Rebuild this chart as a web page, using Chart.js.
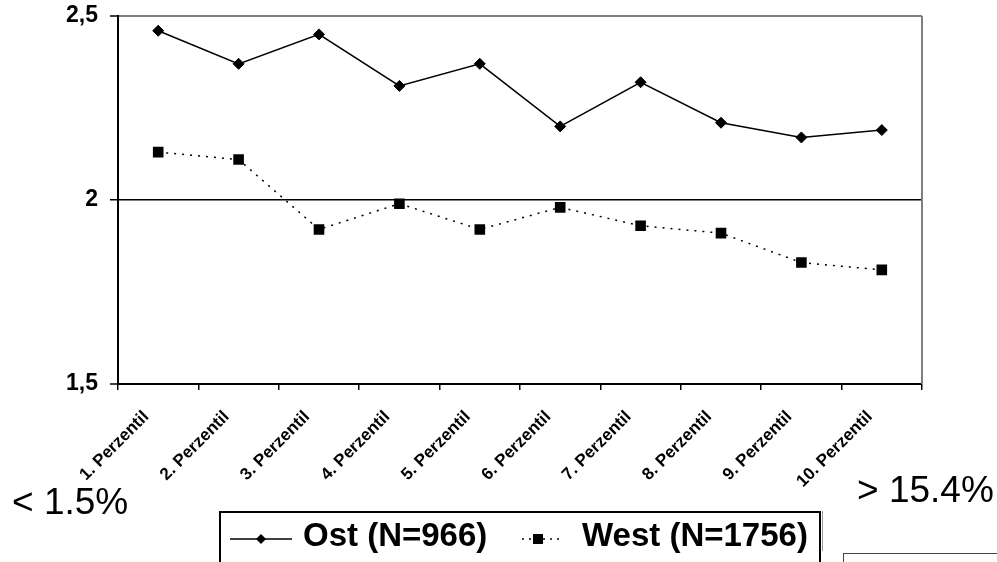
<!DOCTYPE html>
<html>
<head>
<meta charset="utf-8">
<script src="https://cdn.jsdelivr.net/npm/chart.js@4/dist/chart.umd.min.js"></script>
<style>
  html, body { margin: 0; padding: 0; background: #fff; overflow: hidden; }
  #wrap { position: relative; width: 997px; height: 562px; overflow: hidden; }
  #chart { position: absolute; left: 0; top: 0; }
  .note { position: absolute; font-family: 'Liberation Sans', Arial, sans-serif; font-size: 37px; line-height: 37px; color: #000; white-space: nowrap; }
  .legtxt { position: absolute; font-family: 'Liberation Sans', Arial, sans-serif; font-weight: bold; font-size: 33px; line-height: 33px; color: #000; white-space: nowrap; }
  #legendBox { position: absolute; left: 219px; top: 511px; width: 602px; height: 90px; border: 2px solid #000; box-sizing: border-box; }
  #shade { position: absolute; left: 822px; top: 511px; width: 1px; height: 40px; background: #999; }
  #stub { position: absolute; left: 843px; top: 553px; width: 200px; height: 40px; border: 1px solid #444; box-sizing: border-box; }
  svg.sample { position: absolute; overflow: visible; }
</style>
</head>
<body>
<div id="wrap">
  <canvas id="chart" width="997" height="562"></canvas>
  <div class="note" style="left:12px; top:483px;">&lt; 1.5%</div>
  <div class="note" style="left:857px; top:471px;">&gt; 15.4%</div>
  <div id="legendBox"></div>
  <div id="shade"></div>
  <div id="stub"></div>
  <svg class="sample" style="left:0;top:0;" width="997" height="562">
    <line x1="230" y1="539" x2="292" y2="539" stroke="#000" stroke-width="1.5"/>
    <polygon points="256,539 261,534 266,539 261,544" fill="#000"/>
    <line x1="522" y1="539" x2="563" y2="539" stroke="#000" stroke-width="1.5" stroke-dasharray="2,5"/>
    <rect x="533" y="534" width="10" height="10" fill="#000"/>
  </svg>
  <div class="legtxt" style="left:303px; top:518px;">Ost (N=966)</div>
  <div class="legtxt" style="left:582px; top:518px;">West (N=1756)</div>
</div>
<script>
// ---- data ----
const categories = ['1. Perzentil', '2. Perzentil', '3. Perzentil', '4. Perzentil', '5. Perzentil',
                    '6. Perzentil', '7. Perzentil', '8. Perzentil', '9. Perzentil', '10. Perzentil'];
const ostValues  = [2.46, 2.37, 2.45, 2.31, 2.37, 2.20, 2.32, 2.21, 2.17, 2.19];
const westValues = [2.13, 2.11, 1.92, 1.99, 1.92, 1.98, 1.93, 1.91, 1.83, 1.81];
const yMin = 1.5, yMax = 2.5, yStep = 0.5;

const FONT = "'Liberation Sans', Arial, sans-serif";

const rightBorder = {
  id: 'rightBorder',
  beforeDatasetsDraw(chart) {
    const a = chart.chartArea, ctx = chart.ctx;
    ctx.save();
    ctx.strokeStyle = '#808080';
    ctx.lineWidth = 2;
    ctx.beginPath();
    ctx.moveTo(a.right, a.top);
    ctx.lineTo(a.right, a.bottom);
    ctx.stroke();
    ctx.restore();
  }
};

new Chart(document.getElementById('chart'), {
  type: 'line',
  data: {
    labels: categories,
    datasets: [
      {
        label: 'Ost (N=966)',
        data: ostValues,
        borderColor: '#000',
        backgroundColor: '#000',
        borderWidth: 1.5,
        pointStyle: 'rectRot',
        pointRadius: 5.5,
        pointBorderWidth: 1,
        tension: 0,
        fill: false
      },
      {
        label: 'West (N=1756)',
        data: westValues,
        borderColor: '#000',
        backgroundColor: '#000',
        borderWidth: 1.5,
        borderDash: [2, 6],
        pointStyle: 'rect',
        pointRadius: 7.5,
        pointBorderWidth: 0,
        tension: 0,
        fill: false
      }
    ]
  },
  options: {
    responsive: false,
    devicePixelRatio: 1,
    animation: false,
    layout: { padding: { left: 0, top: 16, right: 75, bottom: 0 } },
    plugins: { legend: { display: false }, tooltip: { enabled: false } },
    scales: {
      x: {
        type: 'category',
        offset: true,
        grid: {
          display: true,
          drawOnChartArea: false,
          offset: true,
          tickLength: 6,
          tickColor: '#000',
          lineWidth: 1.5
        },
        border: { display: true, color: '#000', width: 2 },
        ticks: {
          autoSkip: false,
          maxRotation: 45,
          minRotation: 45,
          padding: 17,
          labelOffset: -12,
          color: '#000',
          font: { family: FONT, size: 17, weight: 'bold' }
        },
        afterFit(scale) { scale.height = 178; scale.paddingLeft = 0; scale.paddingRight = 0; }
      },
      y: {
        min: yMin,
        max: yMax,
        grid: {
          color: (c) => c.tick && c.tick.value === 2 ? '#000' : (c.tick && c.tick.value === 2.5 ? '#808080' : 'rgba(0,0,0,0)'),
          lineWidth: (c) => c.tick && c.tick.value === 2 ? 1.5 : 2,
          tickColor: '#000',
          tickWidth: 1.5,
          tickLength: 8
        },
        border: { display: true, color: '#000', width: 2 },
        ticks: {
          stepSize: yStep,
          padding: 12,
          color: '#000',
          font: { family: FONT, size: 23, weight: 'bold' },
          callback: (v) => String(v).replace('.', ',')
        },
        afterFit(scale) { scale.width = 118; scale.paddingTop = 0; scale.paddingBottom = 0; }
      }
    }
  },
  plugins: [rightBorder]
});
</script>
</body>
</html>
